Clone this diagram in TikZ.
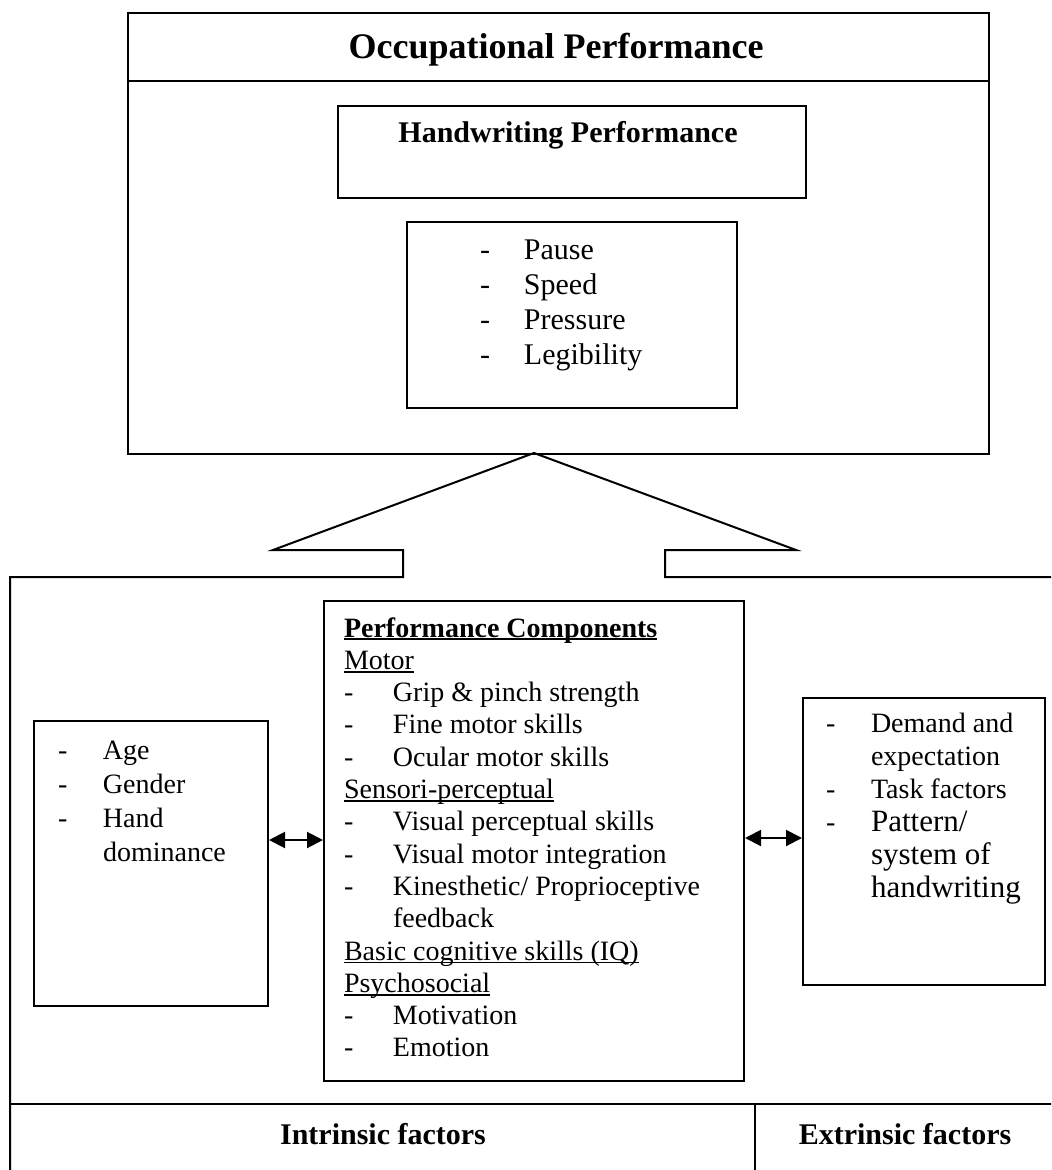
\documentclass[tikz,border=0pt]{standalone}
\usepackage{fontspec}
\setmainfont{Liberation Serif}
\usetikzlibrary{arrows.meta}
% underline at a fixed depth below the baseline, as a word processor sets it
\newlength\ulwd
\newcommand\undl[2][0.05em]{\leavevmode\settowidth\ulwd{#2}\rlap{\rule[-0.12em]{\ulwd}{#1}}#2}
% list item: a dash, then the text at a tab stop
\newcommand\itm[2]{\leavevmode\makebox[#1][l]{-}#2}

\begin{document}
\begin{tikzpicture}[x=0.5pt,y=-0.5pt,line width=1pt,
  box/.style={draw,rectangle,inner sep=0pt,anchor=north west},
  blk/.style={anchor=base west,inner sep=0pt},
  dbl/.style={{Triangle[length=8pt,width=8pt]}-{Triangle[length=8pt,width=8pt]}}]
\useasboundingbox (0,0) rectangle (1051,1170);
\clip (0,0) rectangle (1051,1170);

% ---- upper block: occupational performance ----
\node[box,minimum width=430.5pt,minimum height=220.5pt] (occ) at (127,12) {};
\draw (127,81) -- (988,81);
\node[anchor=base,inner sep=0pt,font=\bfseries\fontsize{18}{21}\selectfont] (title) at (556,59) {Occupational Performance};

\node[box,minimum width=234pt,minimum height=46pt] (hw) at (337,105) {};
\node[anchor=base,inner sep=0pt,font=\bfseries\fontsize{15}{18}\selectfont] (hwt) at (568,143) {Handwriting Performance};

\node[box,minimum width=165pt,minimum height=93pt] (items) at (406,221) {};
\node[blk] (itemst) at (479,260) {\parbox[t]{120pt}{\fontsize{15}{17.5}\selectfont
  \itm{22pt}{Pause}\\
  \itm{22pt}{Speed}\\
  \itm{22pt}{Pressure}\\
  \itm{22pt}{Legibility}}};

% ---- the broad arrow and the lower frame ----
\coordinate (apex) at (534,453);
\draw[line join=miter] (10,1180) -- (10,577) -- (403,577) -- (403,550) -- (273,550)
  -- (apex) -- (796,550) -- (665,550) -- (665,577) -- (1065,577);
\draw (10,1104) -- (1065,1104);
\draw (755,1104) -- (755,1180);
\node[anchor=base,inner sep=0pt,font=\bfseries\fontsize{15}{18}\selectfont] (intr) at (383,1144) {Intrinsic factors};
\node[anchor=base,inner sep=0pt,font=\bfseries\fontsize{15}{18}\selectfont] (extr) at (905,1144) {Extrinsic factors};

% ---- performance components ----
\node[box,minimum width=210pt,minimum height=240pt] (pc) at (323,600) {};
\node[blk] (pct) at (343,637) {\parbox[t]{200pt}{\fontsize{14}{16.15}\selectfont
  \undl[0.08em]{\textbf{Performance Components}}\\
  \undl{Motor}\\
  \itm{24.5pt}{Grip \& pinch strength}\\
  \itm{24.5pt}{Fine motor skills}\\
  \itm{24.5pt}{Ocular motor skills}\\
  \undl{Sensori-perceptual}\\
  \itm{24.5pt}{Visual perceptual skills}\\
  \itm{24.5pt}{Visual motor integration}\\
  \itm{24.5pt}{Kinesthetic/ Proprioceptive}\\
  \hspace*{24.5pt}feedback\\
  \undl{Basic cognitive skills (IQ)}\\
  \undl{Psychosocial}\\
  \itm{24.5pt}{Motivation}\\
  \itm{24.5pt}{Emotion}}};

% ---- personal factors ----
\node[box,minimum width=117pt,minimum height=142.5pt] (age) at (33,720) {};
\node[blk] (aget) at (57,759) {\parbox[t]{110pt}{\fontsize{14}{17}\selectfont
  \itm{22.5pt}{Age}\\
  \itm{22.5pt}{Gender}\\
  \itm{22.5pt}{Hand}\\
  \hspace*{22.5pt}dominance}};

% ---- environmental factors ----
\node[box,minimum width=121pt,minimum height=143.5pt] (env) at (802,697) {};
\node[blk] (envt) at (825,732) {\parbox[t]{115pt}{\fontsize{14}{16.5}\selectfont
  \itm{22.5pt}{Demand and}\\
  \hspace*{22.5pt}expectation\\
  \itm{22.5pt}{Task factors}\\
  \itm{22.5pt}{{\fontsize{15.5}{16.5}\selectfont Pattern/}}\\
  \hspace*{22.5pt}{\fontsize{15.5}{16.5}\selectfont system of}\\
  \hspace*{22.5pt}{\fontsize{15.5}{16.5}\selectfont handwriting}}};

% ---- two-way links ----
\coordinate (lvl) at (0,840);
\draw[dbl] (age.east |- lvl) -- (pc.west |- lvl);
\coordinate (rvl) at (0,838);
\draw[dbl] (pc.east |- rvl) -- (env.west |- rvl);
\end{tikzpicture}
\end{document}
